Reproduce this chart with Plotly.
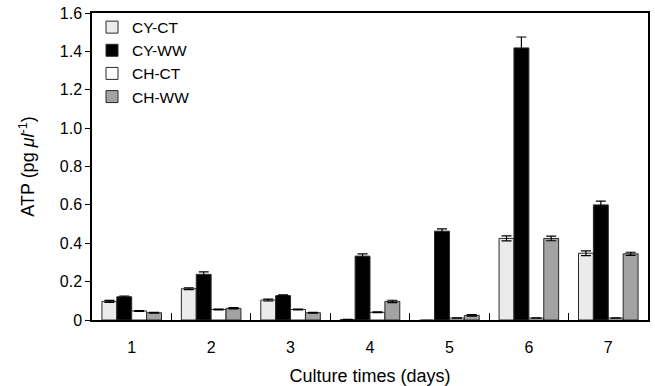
import plotly.graph_objects as go

days = [1, 2, 3, 4, 5, 6, 7]
day_labels = ["1", "2", "3", "4", "5", "6", "7"]

cy_ct = [0.097, 0.163, 0.104, 0.002, -0.008, 0.425, 0.348]
cy_ct_err = [0.005, 0.005, 0.005, 0.001, 0.006, 0.013, 0.012]
cy_ww = [0.121, 0.238, 0.127, 0.333, 0.463, 1.418, 0.600]
cy_ww_err = [0.004, 0.013, 0.004, 0.012, 0.012, 0.057, 0.020]
ch_ct = [0.047, 0.055, 0.055, 0.040, 0.010, 0.010, 0.010]
ch_ct_err = [0.002, 0.002, 0.002, 0.002, 0.001, 0.001, 0.001]
ch_ww = [0.038, 0.061, 0.038, 0.097, 0.024, 0.425, 0.345]
ch_ww_err = [0.002, 0.003, 0.002, 0.006, 0.004, 0.012, 0.008]

series = [
    ("CY-CT", cy_ct, cy_ct_err, "#ebebeb"),
    ("CY-WW", cy_ww, cy_ww_err, "#000000"),
    ("CH-CT", ch_ct, ch_ct_err, "#ffffff"),
    ("CH-WW", ch_ww, ch_ww_err, "#a3a3a3"),
]

y_ticks = [0, 0.2, 0.4, 0.6, 0.8, 1.0, 1.2, 1.4, 1.6]
y_ticktext = ["0", "0.2", "0.4", "0.6", "0.8", "1.0", "1.2", "1.4", "1.6"]
boundaries = [0.5, 1.5, 2.5, 3.5, 4.5, 5.5, 6.5, 7.5]

fig = go.Figure()
for name, vals, errs, col in series:
    fig.add_trace(go.Bar(
        x=days, y=vals, name=name,
        marker=dict(color=col, line=dict(color="#2a2a2a", width=1)),
        error_y=dict(type="data", array=errs, visible=True, color="black",
                     thickness=1.2, width=5),
    ))

# invisible trace on secondary axis for group-boundary ticks
fig.add_trace(go.Scatter(x=[0.5, 7.5], y=[0, 0], xaxis="x2", mode="markers",
                         marker=dict(opacity=0), showlegend=False, hoverinfo="skip"))

font_family = "Liberation Sans, Arial, sans-serif"
fig.update_layout(
    width=655, height=386,
    margin=dict(l=92, r=7, t=13, b=66, autoexpand=False),
    paper_bgcolor="white", plot_bgcolor="white",
    barmode="group", bargap=0.25, bargroupgap=0,
    font=dict(family=font_family, size=16, color="black"),
    showlegend=True,
    legend=dict(x=0.0, y=1.008, xanchor="left", yanchor="top",
                bgcolor="rgba(0,0,0,0)", font=dict(size=15.5),
                tracegroupgap=0, itemwidth=30),
    xaxis=dict(range=[0.5, 7.5], tickvals=days, ticktext=day_labels, ticks="",
               automargin=False, ticklabelstandoff=12,
               showline=True, linecolor="black", linewidth=1.5, mirror=True,
               showgrid=False, zeroline=False,
               title=dict(text="Culture times (days)", font=dict(size=18), standoff=14)),
    xaxis2=dict(range=[0.5, 7.5], overlaying="x", side="bottom", tickvals=boundaries,
                automargin=False,
                showticklabels=False, ticks="inside", ticklen=7, tickcolor="black",
                tickwidth=1, showgrid=False, zeroline=False, showline=False),
    yaxis=dict(range=[0, 1.6], tickvals=y_ticks, ticktext=y_ticktext,
               automargin=False,
               ticks="outside", ticklen=5, tickcolor="black", tickwidth=1,
               showline=True, linecolor="black", linewidth=1.5, mirror=True,
               showgrid=False, zeroline=False,
               title=dict(text="ATP (pg <i>μl</i><sup>-1</sup>)", font=dict(size=18), standoff=20)),
)

post = ("document.body.style.margin='0';"
        "document.documentElement.style.overflow='hidden';"
        "document.body.style.overflow='hidden';"
        "var gd=document.getElementById('{plot_id}');"
        "Plotly.relayout(gd,{width:655,height:386});")

fig.write_html("out.html", post_script=post,
               config={"responsive": False, "displayModeBar": False})
